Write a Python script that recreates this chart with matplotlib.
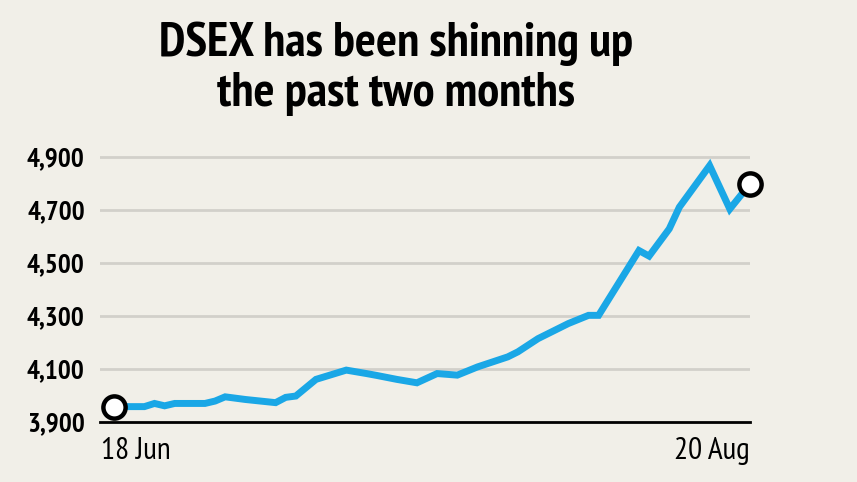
import matplotlib
matplotlib.use("Agg")
import matplotlib.pyplot as plt
from matplotlib import font_manager
import datetime as dt

# ---- data ----
start_date = "2020-06-18"
day_offsets = [0, 3, 4, 5, 6, 9, 10, 11, 13, 16, 17, 18, 20, 23, 25, 26, 28, 30,
               32, 34, 36, 39, 40, 42, 45, 47, 48, 52, 53, 55, 56, 59, 61, 63]
dsex = [3957, 3957, 3969, 3960, 3969, 3969, 3978, 3994, 3984, 3972, 3992, 3997,
        4060, 4095, 4082, 4075, 4060, 4047, 4082, 4076, 4107, 4145, 4164, 4214,
        4271, 4302, 4302, 4547, 4526, 4629, 4711, 4868, 4704, 4799]
y_ticks = [3900, 4100, 4300, 4500, 4700, 4900]
y_tick_labels = ["3,900", "4,100", "4,300", "4,500", "4,700", "4,900"]
x_labels = ["18 Jun", "20 Aug"]
title_text = "DSEX has been shinning up\nthe past two months"

names = {f.name for f in font_manager.fontManager.ttflist}
cands = ["PT Sans Narrow", "Roboto Condensed", "Fira Sans Condensed", "Open Sans Condensed",
         "Barlow Semi Condensed", "Barlow Condensed", "Asap Condensed", "Archivo Narrow"]
fam = next((c for c in cands if c in names), "DejaVu Sans")

bg = "#f1efe8"
line_c = "#1aa7e6"
grid_c = "#d2d0ca"

d0 = dt.datetime.strptime(start_date, "%Y-%m-%d")
dates = [d0 + dt.timedelta(days=d) for d in day_offsets]

fig = plt.figure(figsize=(8.57, 4.82), dpi=100, facecolor=bg)
ax = fig.add_axes([100/857, 1-421.7/482, 650/857, (421.7-150)/482], facecolor=bg)

ax.plot(dates, dsex, color=line_c, lw=5, solid_joinstyle="miter", solid_capstyle="butt", zorder=3)
ax.plot([dates[0], dates[-1]], [dsex[0], dsex[-1]], ls="none", marker="o", ms=16,
        mfc="white", mec="black", mew=3.2, zorder=4, clip_on=False)

ax.set_xlim(d0 - dt.timedelta(days=1.4), dates[-1])
ax.set_ylim(3900, 4927)

ax.set_yticks(y_ticks)
ax.set_yticklabels(y_tick_labels, fontfamily=fam, fontweight="bold", fontsize=19.5)
ax.tick_params(axis="y", length=0, pad=11)
ax.set_xticks([])
for yv in y_ticks[1:]:
    ax.axhline(yv, color=grid_c, lw=2, zorder=1)
for s in ["top", "right", "left"]:
    ax.spines[s].set_visible(False)
ax.spines["bottom"].set_color("black")
ax.spines["bottom"].set_linewidth(2)
ax.spines["bottom"].set_zorder(2)

ax.text(0.002, -0.058, x_labels[0], transform=ax.transAxes, ha="left", va="top",
        fontfamily=fam, fontsize=22.5)
ax.text(1, -0.058, x_labels[1], transform=ax.transAxes, ha="right", va="top",
        fontfamily=fam, fontsize=22.5)

fig.text(396/857, 1-21/482, title_text, ha="center", va="top", fontfamily=fam,
         fontweight="bold", fontsize=35.5, linespacing=1.2)

fig.savefig("out.png", dpi=100, facecolor=bg)
